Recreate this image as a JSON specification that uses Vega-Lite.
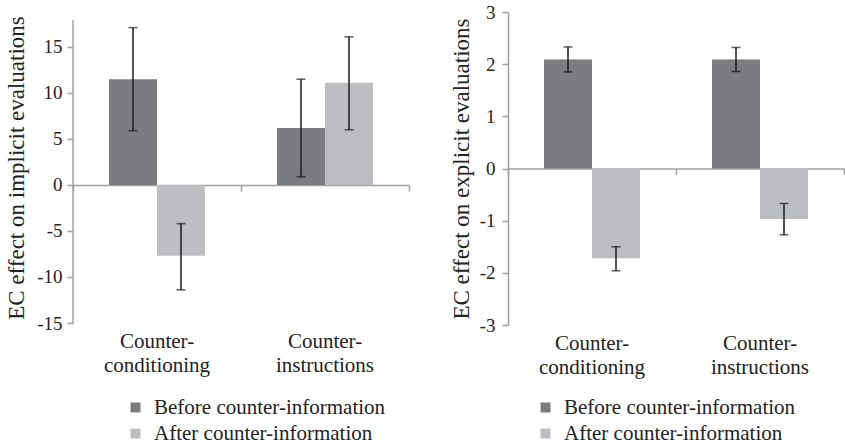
{
  "$schema": "https://vega.github.io/schema/vega-lite/v6.json",
  "padding": {"left": 5, "top": 3, "right": 0, "bottom": 0},
  "spacing": 40,
  "datasets": {
    "implicit": [
      {"cat": "Counter-conditioning", "phase": "Before counter-information", "value": 11.5, "lo": 5.9, "hi": 17.1},
      {"cat": "Counter-conditioning", "phase": "After counter-information", "value": -7.7, "lo": -11.4, "hi": -4.2},
      {"cat": "Counter-instructions", "phase": "Before counter-information", "value": 6.2, "lo": 0.9, "hi": 11.5},
      {"cat": "Counter-instructions", "phase": "After counter-information", "value": 11.1, "lo": 6.0, "hi": 16.1}
    ],
    "explicit": [
      {"cat": "Counter-conditioning", "phase": "Before counter-information", "value": 2.09, "lo": 1.85, "hi": 2.33},
      {"cat": "Counter-conditioning", "phase": "After counter-information", "value": -1.72, "lo": -1.96, "hi": -1.5},
      {"cat": "Counter-instructions", "phase": "Before counter-information", "value": 2.09, "lo": 1.86, "hi": 2.32},
      {"cat": "Counter-instructions", "phase": "After counter-information", "value": -0.97, "lo": -1.27, "hi": -0.67}
    ]
  },
  "resolve": {"scale": {"color": "independent"}, "legend": {"color": "independent"}},
  "hconcat": [
    {
      "width": 336,
      "height": 311,
      "data": {"name": "implicit"},
      "resolve": {"axis": {"x": "independent"}},
      "layer": [
        {
          "mark": {"type": "bar"},
          "encoding": {
            "x": {"field": "cat", "type": "nominal", "sort": null, "scale": {"paddingInner": 0, "paddingOuter": 0},
              "axis": {"orient": "bottom", "title": null, "domain": false, "ticks": false, "tickSize": 0, "labelPadding": 7, "labelAngle": 0, "labelExpr": "[slice(datum.label,0,8), slice(datum.label,8)]", "labelLineHeight": 24}},
            "xOffset": {"field": "phase", "sort": ["Before counter-information", "After counter-information"], "scale": {"paddingInner": 0, "paddingOuter": 0.75}},
            "y": {"field": "value", "type": "quantitative", "scale": {"domain": [-15, 18.8], "nice": false},
              "axis": {"title": "EC effect on implicit evaluations", "values": [-15, -10, -5, 0, 5, 10, 15], "labelExpr": "'' + datum.value", "domain": false, "grid": false, "tickSize": 6, "labelPadding": 5, "titleX": -57, "titleBaseline": "middle"}},
            "color": {"field": "phase", "type": "nominal", "sort": ["Before counter-information", "After counter-information"],
              "scale": {"domain": ["Before counter-information", "After counter-information"], "range": ["#7b7c80", "#bdbec2"]},
              "legend": {"title": null, "orient": "none", "legendX": 52, "legendY": 385}}
          }
        },
        {
          "data": {"values": [{"cat": "Counter-conditioning", "lo": -15, "hi": 17.9}]},
          "mark": {"type": "rule", "color": "#a0a0a0", "strokeWidth": 1.5},
          "encoding": {
            "x": {"field": "cat", "type": "nominal", "sort": null, "bandPosition": 0, "axis": null},
            "y": {"field": "lo", "type": "quantitative", "title": "EC effect on implicit evaluations"},
            "y2": {"field": "hi"}
          }
        },
        {
          "mark": {"type": "rule", "color": "#1a1a1a", "strokeWidth": 1.5},
          "encoding": {
            "x": {"field": "cat", "type": "nominal", "sort": null,
              "axis": {"orient": "bottom", "title": null, "labels": false, "domain": true, "domainColor": "#a0a0a0", "domainWidth": 1.5, "ticks": true, "tickBand": "extent", "tickSize": 6, "tickColor": "#a0a0a0", "tickWidth": 1.5, "offset": -138, "grid": false}},
            "xOffset": {"field": "phase", "sort": ["Before counter-information", "After counter-information"]},
            "y": {"field": "lo", "type": "quantitative", "title": "EC effect on implicit evaluations"},
            "y2": {"field": "hi"}
          }
        },
        {
          "mark": {"type": "tick", "color": "#1a1a1a", "size": 9, "thickness": 1.5},
          "encoding": {
            "x": {"field": "cat", "type": "nominal", "sort": null, "axis": null},
            "xOffset": {"field": "phase", "sort": ["Before counter-information", "After counter-information"]},
            "y": {"field": "lo", "type": "quantitative", "title": "EC effect on implicit evaluations"}
          }
        },
        {
          "mark": {"type": "tick", "color": "#1a1a1a", "size": 9, "thickness": 1.5},
          "encoding": {
            "x": {"field": "cat", "type": "nominal", "sort": null, "axis": null},
            "xOffset": {"field": "phase", "sort": ["Before counter-information", "After counter-information"]},
            "y": {"field": "hi", "type": "quantitative", "title": "EC effect on implicit evaluations"}
          }
        }
      ]
    },
    {
      "width": 336,
      "height": 313,
      "data": {"name": "explicit"},
      "resolve": {"axis": {"x": "independent"}},
      "layer": [
        {
          "mark": {"type": "bar"},
          "encoding": {
            "x": {"field": "cat", "type": "nominal", "sort": null, "scale": {"paddingInner": 0, "paddingOuter": 0},
              "axis": {"orient": "bottom", "title": null, "domain": false, "ticks": false, "tickSize": 0, "labelPadding": 7, "labelAngle": 0, "labelExpr": "[slice(datum.label,0,8), slice(datum.label,8)]", "labelLineHeight": 24}},
            "xOffset": {"field": "phase", "sort": ["Before counter-information", "After counter-information"], "scale": {"paddingInner": 0, "paddingOuter": 0.75}},
            "y": {"field": "value", "type": "quantitative", "scale": {"domain": [-3, 3], "nice": false},
              "axis": {"title": "EC effect on explicit evaluations", "values": [-3, -2, -1, 0, 1, 2, 3], "labelExpr": "'' + datum.value", "domain": true, "grid": false, "tickSize": 6, "labelPadding": 7, "titleX": -47, "titleBaseline": "middle"}},
            "color": {"field": "phase", "type": "nominal", "sort": ["Before counter-information", "After counter-information"],
              "scale": {"domain": ["Before counter-information", "After counter-information"], "range": ["#7b7c80", "#bdbec2"]},
              "legend": {"title": null, "orient": "none", "legendX": 27, "legendY": 385}}
          }
        },
        {
          "mark": {"type": "rule", "color": "#1a1a1a", "strokeWidth": 1.5},
          "encoding": {
            "x": {"field": "cat", "type": "nominal", "sort": null,
              "axis": {"orient": "bottom", "title": null, "labels": false, "domain": true, "domainColor": "#a0a0a0", "domainWidth": 1.5, "ticks": true, "tickBand": "extent", "tickSize": 6, "tickColor": "#a0a0a0", "tickWidth": 1.5, "offset": -156.5, "grid": false}},
            "xOffset": {"field": "phase", "sort": ["Before counter-information", "After counter-information"]},
            "y": {"field": "lo", "type": "quantitative", "title": "EC effect on explicit evaluations"},
            "y2": {"field": "hi"}
          }
        },
        {
          "mark": {"type": "tick", "color": "#1a1a1a", "size": 9, "thickness": 1.5},
          "encoding": {
            "x": {"field": "cat", "type": "nominal", "sort": null, "axis": null},
            "xOffset": {"field": "phase", "sort": ["Before counter-information", "After counter-information"]},
            "y": {"field": "lo", "type": "quantitative", "title": "EC effect on explicit evaluations"}
          }
        },
        {
          "mark": {"type": "tick", "color": "#1a1a1a", "size": 9, "thickness": 1.5},
          "encoding": {
            "x": {"field": "cat", "type": "nominal", "sort": null, "axis": null},
            "xOffset": {"field": "phase", "sort": ["Before counter-information", "After counter-information"]},
            "y": {"field": "hi", "type": "quantitative", "title": "EC effect on explicit evaluations"}
          }
        }
      ]
    }
  ],
  "config": {
    "view": {"stroke": null},
    "font": "Liberation Serif",
    "axis": {
      "labelFont": "Liberation Serif", "labelFontSize": 19, "labelColor": "#222222",
      "titleFont": "Liberation Serif", "titleFontSize": 23, "titleFontWeight": "normal", "titleColor": "#222222",
      "domainColor": "#a0a0a0", "domainWidth": 1.5, "tickColor": "#a0a0a0", "tickWidth": 1.5
    },
    "axisX": {"labelFontSize": 21},
    "legend": {
      "labelFont": "Liberation Serif", "labelFontSize": 21, "labelColor": "#222222",
      "symbolType": "square", "symbolSize": 100, "symbolStrokeWidth": 0, "rowPadding": 4, "labelOffset": 8, "labelLimit": 400
    }
  }
}
